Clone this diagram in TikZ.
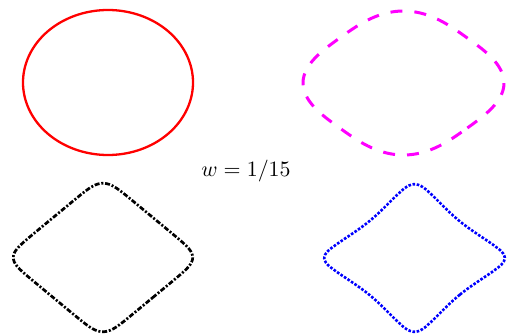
\documentclass[tikz,border=0pt]{standalone}
\begin{document}
\begin{tikzpicture}[
    x=0.5pt,
    y=0.5pt,
    declare function={
      rsq(\t,\q)=pow(pow(abs(cos(\t)),\q)+pow(abs(sin(\t)),\q),-1/\q);
      sqU(\t,\q)=rsq(\t,\q)*cos(\t);
      sqV(\t,\q)=rsq(\t,\q)*sin(\t);
      pinch(\t,\k)=1-\k*(sqrt(cos(2*\t)*cos(2*\t)+0.04)-0.2)/0.8198;
    },
    solid curve/.style={draw=curveRed, line width=1.15pt, line join=round},
    dashed curve/.style={draw=curveMagenta, line width=1.5pt, dash pattern=on 6pt off 6pt},
    dashdot curve/.style={draw=black, line width=1.35pt, dash pattern=on 2.5pt off 0.9pt on 1pt off 0.9pt},
    dotted curve/.style={draw=curveBlue, line width=1.3pt, dash pattern=on 1.3pt off 0.8pt},
    weight label/.style={font=\fontsize{11}{13}\selectfont, text=black, inner sep=0pt}
]

\definecolor{curveRed}{RGB}{255,0,0}
\definecolor{curveMagenta}{RGB}{255,0,255}
\definecolor{curveBlue}{RGB}{0,0,255}

% Rounded diamond centred at #1, half-widths #2 and #3,
% squareness #4, side pinch #5, style #6.
\newcommand{\wCurve}[6]{%
  \draw[#6, shift={#1}] plot[domain=0.5:360.5, samples=241, variable=\t]
    ({#2*pinch(\t,#5)*(sqU(\t,#4)+sqV(\t,#4))*pow(2,1/#4)/2},
     {#3*pinch(\t,#5)*(sqV(\t,#4)-sqU(\t,#4))*pow(2,1/#4)/2}) -- cycle;
}

\useasboundingbox (0,0) rectangle (507,333);

% Curve centres.
\coordinate (redC) at (108,250.5);
\coordinate (magentaC) at (403.5,250);
\coordinate (blackC) at (103,75.5);
\coordinate (blueC) at (414.5,75);

% The four curves.
\wCurve{(redC)}{85}{72.5}{2}{0}{solid curve}
\wCurve{(magentaC)}{100.5}{72}{3}{0}{dashed curve}
\wCurve{(blackC)}{90}{74.5}{8}{0}{dashdot curve}
\wCurve{(blueC)}{90.5}{74}{10}{0.07}{dotted curve}

% Weight label.
\node[weight label] (wlabel) at (246,162) {$w = 1/15$};

\end{tikzpicture}
\end{document}
